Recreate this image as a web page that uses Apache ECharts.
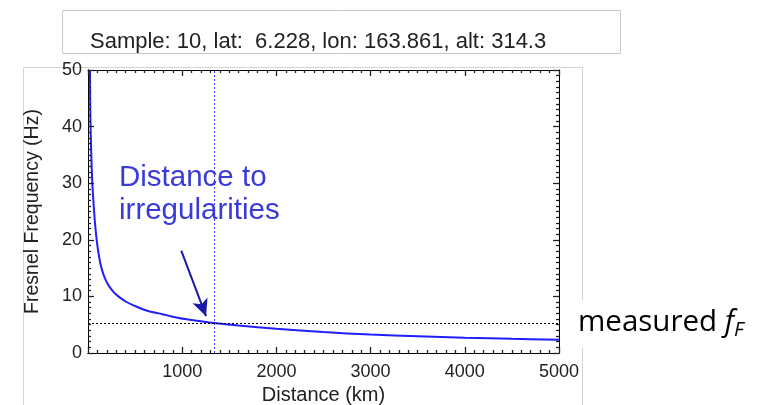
<!DOCTYPE html>
<html><head><meta charset="utf-8">
<script src="https://cdn.jsdelivr.net/npm/echarts@6/dist/echarts.min.js"></script>
<style>html,body{margin:0;padding:0;background:#fff}#c{width:780px;height:405px}</style>
</head><body><div id="c"></div>
<script>
// Distance (km) and Fresnel frequency (Hz)
const distanceKm = [21, 25, 35, 46, 60, 75, 92, 110, 130, 150, 180, 220, 270, 322, 400, 500, 620, 750, 852, 1030, 1200, 1340, 1600, 2000, 2500, 3000, 3500, 4000, 4500, 5000];
const fresnelHz  = [50, 42, 35, 30, 26.2, 22.8, 20, 17.8, 15.9, 14.6, 13.2, 11.9, 10.8, 10, 9.1, 8.3, 7.5, 7.0, 6.6, 6.0, 5.6, 5.3, 4.85, 4.3, 3.7, 3.25, 2.95, 2.7, 2.5, 2.35];
const measuredFF = 5.3;          // measured Fresnel frequency (Hz)
const irregularityDist = 1340;   // distance to irregularities (km)
const arrowStart = [990, 18.1];
const arrowEnd = [1253, 6.5];
const xTicks = [0, 1000, 2000, 3000, 4000, 5000];
const yTicks = [0, 10, 20, 30, 40, 50];
const headerText = 'Sample: 10, lat:  6.228, lon: 163.861, alt: 314.3';

const chart = echarts.init(document.getElementById('c'));
const font = 'Liberation Sans, Arial, sans-serif';
const xMin = xTicks[0], xMax = xTicks[xTicks.length - 1];
const yMin = yTicks[0], yMax = yTicks[yTicks.length - 1];
const gridBox = {left: 88, right: 221, top: 70, bottom: 52, containLabel: false, outerBoundsMode: 'none'};
const tickColor = '#202020';
function tickAxis(extra) {
  return Object.assign({
    type: 'value', z: 10, splitLine: {show: false}, axisLabel: {show: false},
    axisLine: {show: true, lineStyle: {color: '#000'}},
    axisTick: {show: true, inside: true, length: 6, lineStyle: {color: tickColor, width: 1.3}},
    minorTick: {show: true, splitNumber: 10, length: 3, lineStyle: {color: tickColor, width: 1.3}}
  }, extra);
}
chart.setOption({
  animation: false,
  grid: [Object.assign({}, gridBox), Object.assign({}, gridBox), Object.assign({}, gridBox)],
  xAxis: [
    {type: 'value', gridIndex: 0, min: xMin, max: xMax, interval: 1000, position: 'bottom',
      name: 'Distance (km)', nameLocation: 'middle', nameGap: 30,
      nameTextStyle: {fontFamily: font, fontSize: 20, color: '#222'},
      axisLine: {show: true, lineStyle: {color: '#000'}},
      axisTick: {show: false}, splitLine: {show: false},
      axisLabel: {fontFamily: font, fontSize: 18, color: '#222', margin: 10,
        formatter: v => v === 0 ? '' : String(v)}},
    tickAxis({gridIndex: 1, min: xMin, max: xMax, interval: 1000, inverse: true, position: 'top'}),
    tickAxis({gridIndex: 2, min: xMin, max: xMax, interval: 1000, position: 'bottom'})
  ],
  yAxis: [
    {type: 'value', gridIndex: 0, min: yMin, max: yMax, interval: 10, position: 'left',
      name: 'Fresnel Frequency (Hz)', nameLocation: 'middle', nameGap: 45,
      nameTextStyle: {fontFamily: font, fontSize: 19.5, color: '#222'},
      axisLine: {show: true, lineStyle: {color: '#000'}},
      axisTick: {show: false}, splitLine: {show: false},
      axisLabel: {fontFamily: font, fontSize: 18, color: '#222', margin: 6}},
    tickAxis({gridIndex: 1, min: yMin, max: yMax, interval: 10, inverse: true, position: 'right'}),
    tickAxis({gridIndex: 2, min: yMin, max: yMax, interval: 10, position: 'left'})
  ],
  series: [{
    type: 'line', xAxisIndex: 0, yAxisIndex: 0,
    data: distanceKm.map((d, i) => [d, fresnelHz[i]]),
    smooth: 0.35, showSymbol: false, clip: true,
    lineStyle: {color: '#1f1fff', width: 2},
    markLine: {
      silent: true, symbol: 'none', label: {show: false},
      data: [
        {xAxis: irregularityDist, lineStyle: {color: '#3939ff', type: [2, 2], width: 1}},
        {yAxis: measuredFF, lineStyle: {color: '#000', type: [2, 2], width: 1}},
        [{coord: arrowStart, symbol: 'none', lineStyle: {color: '#1a1aa6', type: 'solid', width: 2}},
         {coord: arrowEnd, symbol: 'arrow', symbolSize: [12, 17]}]
      ]
    }
  }],
  graphic: [
    {type: 'line', shape: {x1: 23.5, y1: 405, x2: 23.5, y2: 67.5}, style: {stroke: '#d4d4d4', lineWidth: 1}, z: -1},
    {type: 'line', shape: {x1: 23.5, y1: 67.5, x2: 583, y2: 67.5}, style: {stroke: '#d4d4d4', lineWidth: 1}, z: -1},
    {type: 'line', shape: {x1: 582.5, y1: 67.5, x2: 582.5, y2: 405}, style: {stroke: '#d4d4d4', lineWidth: 1}, z: -1},
    {type: 'rect', shape: {x: 62.5, y: 10.5, width: 558, height: 43}, style: {fill: '#fff', stroke: '#c8c8c8', lineWidth: 1}},
    {type: 'text', x: 90, y: 42, style: {text: headerText, fontFamily: font, fontSize: 22, fill: '#222', verticalAlign: 'middle'}},
    {type: 'text', x: 119, y: 161, style: {text: 'Distance to\nirregularities', fontFamily: font, fontSize: 29.5, lineHeight: 33, fill: '#3a3ad8'}},
    {type: 'rect', shape: {x: 572, y: 300, width: 208, height: 48}, style: {fill: '#fff'}},
    {type: 'text', x: 578, y: 323, style: {
      text: '{n|measured }{f|f}{s|F}', verticalAlign: 'middle',
      rich: {
        n: {fontFamily: 'Open Sans, Noto Sans, sans-serif', fontSize: 29.5, fill: '#000'},
        f: {fontFamily: 'Open Sans, Noto Sans, sans-serif', fontSize: 29.5, fontStyle: 'italic', fill: '#000'},
        s: {fontFamily: 'Open Sans, Noto Sans, sans-serif', fontSize: 20, fontStyle: 'italic', fill: '#000', padding: [14, 0, 0, 0]}
      }}}
  ]
});
</script></body></html>
